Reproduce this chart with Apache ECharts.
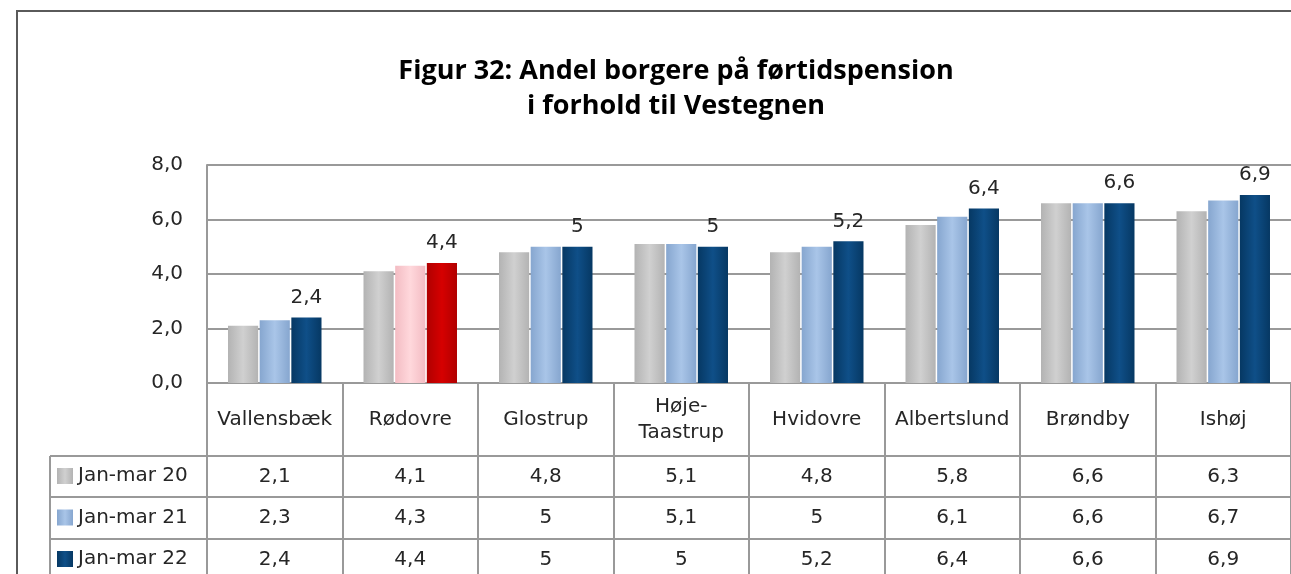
<!DOCTYPE html>
<html><head><meta charset="utf-8">
<script src="https://cdn.jsdelivr.net/npm/echarts@6/dist/echarts.min.js"></script>
<style>html,body{margin:0;padding:0;background:#fff;}#c{width:1291px;height:574px;}</style>
</head><body><div id="c"></div>
<script>
// ---- data ----
const categories = ['Vallensbæk','Rødovre','Glostrup','Høje-\nTaastrup','Hvidovre','Albertslund','Brøndby','Ishøj'];
const seriesNames = ['Jan-mar 20','Jan-mar 21','Jan-mar 22'];
const jan20 = [2.1, 4.1, 4.8, 5.1, 4.8, 5.8, 6.6, 6.3];
const jan21 = [2.3, 4.3, 5,   5.1, 5,   6.1, 6.6, 6.7];
const jan22 = [2.4, 4.4, 5,   5,   5.2, 6.4, 6.6, 6.9];
const yTicks = [0, 2, 4, 6, 8];
const highlightCategory = 'Rødovre';
const titleText = 'Figur 32: Andel borgere på førtidspension\ni forhold til Vestegnen';

// ---- helpers ----
const fmt = v => String(v).replace('.', ',');
const grad = (edge, mid) => new echarts.graphic.LinearGradient(0, 0, 1, 0, [
  {offset: 0, color: edge}, {offset: 0.5, color: mid}, {offset: 1, color: edge}
]);
const colors = {
  gray: grad('#b3b3b3', '#d0d0d0'),
  light: grad('#86a6cf', '#a9c5e8'),
  dark: grad('#063863', '#0f4f88'),
  pink: grad('#f3bcc3', '#ffd8dc'),
  red: grad('#b00000', '#d60000')
};
const LINE = '#999999';
const TXT = '#262626';
const FONT = 'DejaVu Sans';
const FS = 20;
const hi = categories.indexOf(highlightCategory);

function withHighlight(values, col) {
  return values.map((v, i) => i === hi ? {value: v, itemStyle: {color: col}} : v);
}

const gridTop = 165, gridHeight = 218, gridLeft = 207, gridWidth = 1085;
const headerH = 73;
const rowH = [41, 42, 41];
const rowValues = [jan20, jan21, jan22];

function rowAxis(values, offset, h) {
  return {
    type: 'category', data: categories, gridIndex: 0, position: 'bottom', offset: offset,
    axisLine: {show: true, lineStyle: {color: LINE, width: 2}},
    axisTick: {show: true, interval: 0, length: h, lineStyle: {color: LINE, width: 2}},
    axisLabel: {interval: 0, margin: h / 2, verticalAlign: 'middle', fontFamily: FONT, fontSize: FS, color: TXT,
      formatter: (v, i) => fmt(values[i])},
    splitLine: {show: false}
  };
}

const xAxes = [{
  type: 'category', data: categories, gridIndex: 0, position: 'bottom',
  axisLine: {show: true, lineStyle: {color: LINE, width: 2}},
  axisTick: {show: true, interval: 0, length: headerH, lineStyle: {color: LINE, width: 2}},
  axisLabel: {interval: 0, margin: headerH / 2, verticalAlign: 'middle', lineHeight: 26,
    fontFamily: FONT, fontSize: FS, color: TXT},
  splitLine: {show: false}
}];
let off = headerH;
rowValues.forEach((vals, k) => { xAxes.push(rowAxis(vals, off, rowH[k])); off += rowH[k]; });

// legend column frame
const legendLeft = 50;
const graphics = [{
  type: 'rect', silent: true, shape: {x: 17, y: 11, width: 1400, height: 700},
  style: {fill: 'none', stroke: '#5a5a5a', lineWidth: 2}
}];
let yy = gridTop + gridHeight + headerH;
for (let k = 0; k < rowH.length; k++) {
  graphics.push({type: 'line', silent: true, shape: {x1: legendLeft, y1: yy, x2: gridLeft, y2: yy},
    style: {stroke: LINE, lineWidth: 2}});
  yy += rowH[k];
}
graphics.push({type: 'line', silent: true,
  shape: {x1: legendLeft, y1: gridTop + gridHeight + headerH, x2: legendLeft, y2: 700},
  style: {stroke: LINE, lineWidth: 2}});

const chart = echarts.init(document.getElementById('c'));
chart.setOption({
  backgroundColor: '#fff',
  animation: false,
  title: {
    text: titleText, left: 676, top: 54, padding: 0, textAlign: 'center',
    textStyle: {fontFamily: 'Open Sans', fontWeight: 'bold', fontSize: 27, lineHeight: 35, color: '#000'}
  },
  legend: {
    orient: 'vertical', left: 57, top: 466, padding: 0, itemGap: 21.5,
    itemWidth: 16, itemHeight: 16, icon: 'rect',
    data: seriesNames,
    textStyle: {fontFamily: FONT, fontSize: FS, color: TXT, lineHeight: 20}
  },
  grid: {left: gridLeft, top: gridTop, width: gridWidth, height: gridHeight, containLabel: false},
  xAxis: xAxes,
  yAxis: {
    type: 'value', min: yTicks[0], max: yTicks[yTicks.length - 1], interval: yTicks[1] - yTicks[0],
    axisLine: {show: true, lineStyle: {color: LINE, width: 2}},
    axisTick: {show: false},
    splitLine: {lineStyle: {color: LINE, width: 2}},
    axisLabel: {margin: 24, fontFamily: FONT, fontSize: FS, color: TXT, formatter: v => v.toFixed(1).replace('.', ',')}
  },
  graphic: graphics,
  series: [
    {name: seriesNames[0], type: 'bar', barCategoryGap: '31%', barGap: '5%',
      itemStyle: {color: colors.gray}, data: jan20},
    {name: seriesNames[1], type: 'bar', barCategoryGap: '31%', barGap: '5%',
      itemStyle: {color: colors.light}, data: withHighlight(jan21, colors.pink)},
    {name: seriesNames[2], type: 'bar', barCategoryGap: '31%', barGap: '5%',
      itemStyle: {color: colors.dark}, data: withHighlight(jan22, colors.red),
      label: {show: true, position: 'top', distance: 10, fontFamily: FONT, fontSize: 20, color: TXT,
        formatter: p => fmt(p.value)}}
  ]
});
</script></body></html>
